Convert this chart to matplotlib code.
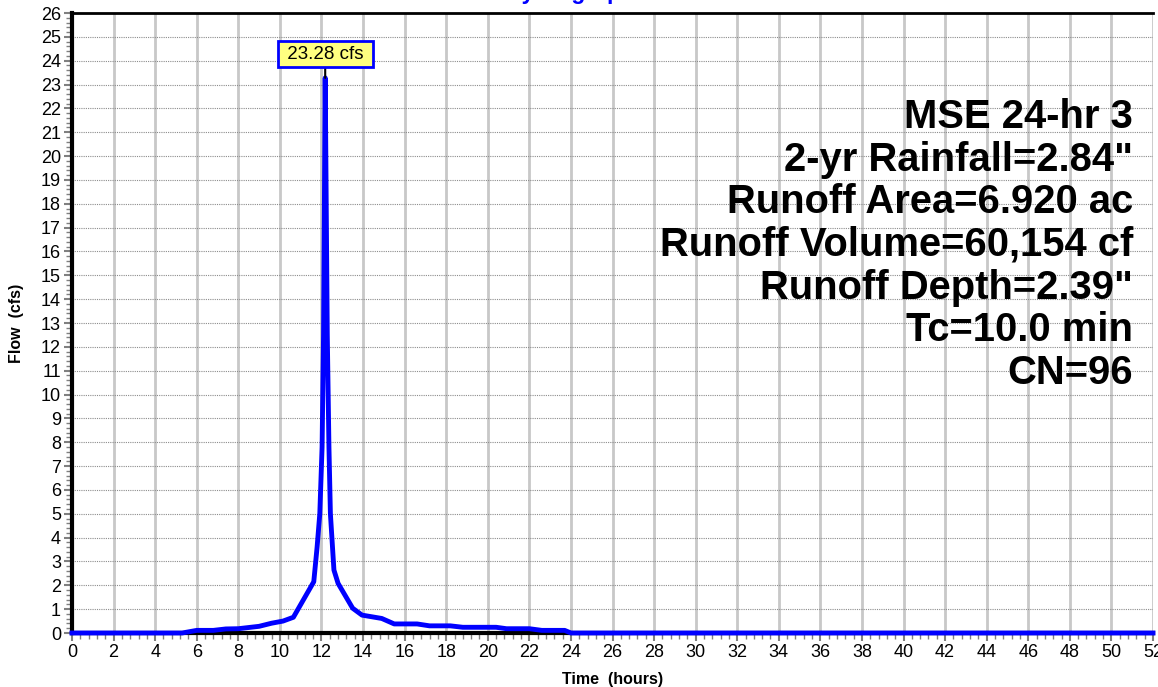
import matplotlib
matplotlib.use("Agg")
import matplotlib.pyplot as plt
from matplotlib.ticker import MultipleLocator

plt.rcParams['font.family'] = ['Liberation Sans', 'DejaVu Sans']

# hydrograph (hours, cfs)
hours = [0, 5.3, 6.0, 6.8, 7.4, 8.0, 9.0, 9.6, 10.15, 10.65, 11.63, 11.79, 11.92,
         12.03, 12.1, 12.18, 12.28, 12.36, 12.43, 12.6, 12.8, 13.5, 13.95, 14.9,
         15.5, 16.6, 17.2, 18.2, 18.8, 20.4, 20.9, 22.0, 22.6, 23.7, 24.0, 52]
flow = [0, 0, 0.11, 0.11, 0.17, 0.18, 0.28, 0.41, 0.5, 0.66, 2.15, 3.6, 5.0,
        7.8, 12.5, 23.28, 12.5, 7.8, 5.0, 2.64, 2.08, 1.04, 0.75, 0.61,
        0.38, 0.38, 0.3, 0.3, 0.24, 0.24, 0.18, 0.18, 0.11, 0.11, 0.0, 0.0]

peak_t = 12.18
peak_q = 23.28
peak_label = "23.28 cfs"

info_lines = ["MSE 24-hr 3", "2-yr Rainfall=2.84\"", "Runoff Area=6.920 ac",
              "Runoff Volume=60,154 cf", "Runoff Depth=2.39\"", "Tc=10.0 min", "CN=96"]

fig = plt.figure(figsize=(11.58, 6.87), dpi=100)
ax = fig.add_axes([72/1158, 1-633/687, (1153-72)/1158, (633-13)/687])

ax.plot(hours, flow, color="#0000FF", lw=3.5, zorder=3, clip_on=False)

ax.set_xlim(0, 52)
ax.set_ylim(0, 26)
ax.xaxis.set_major_locator(MultipleLocator(2))
ax.xaxis.set_minor_locator(MultipleLocator(0.4))
ax.yaxis.set_major_locator(MultipleLocator(1))
ax.yaxis.set_minor_locator(MultipleLocator(0.2))

ax.grid(axis="x", which="major", color="#C8C8C8", lw=2, ls="-")
ax.grid(axis="y", which="major", color="#8C8C8C", lw=0.8, ls=(0, (1, 1)))
ax.set_axisbelow(True)

ax.spines["right"].set_visible(False)
ax.spines["top"].set_linewidth(2)
ax.spines["left"].set_linewidth(3)
ax.spines["bottom"].set_linewidth(3)

ax.tick_params(axis="both", which="major", labelsize=13, color="#808080",
               length=6, width=1.5, pad=2)
ax.tick_params(axis="both", which="minor", color="#808080", length=4, width=1)

ax.set_xlabel("Time  (hours)", fontsize=11.5, fontweight="bold", labelpad=8)
ax.set_ylabel("Flow  (cfs)", fontsize=11.5, fontweight="bold", labelpad=12)

ax.annotate(" " + peak_label + " ", xy=(peak_t, peak_q), xytext=(peak_t, peak_q + 1.0),
            ha="center", va="center", fontsize=13.5,
            bbox=dict(boxstyle="square,pad=0.22", fc="#FFFF80", ec="#0000FF", lw=2),
            arrowprops=dict(arrowstyle="-", color="black", lw=1.5,
                            shrinkA=0, shrinkB=0))

for i, line in enumerate(info_lines):
    ax.text(0.9815, 0.832 - i * 0.0687, line, transform=ax.transAxes,
            ha="right", va="center", fontsize=28.8, fontweight="bold")

fig.text(0.493, 1.0015, "Hydrograph", color="#0000FF", fontsize=16.6,
         fontweight="bold", ha="center", va="baseline")

fig.savefig("out.png", dpi=100)
